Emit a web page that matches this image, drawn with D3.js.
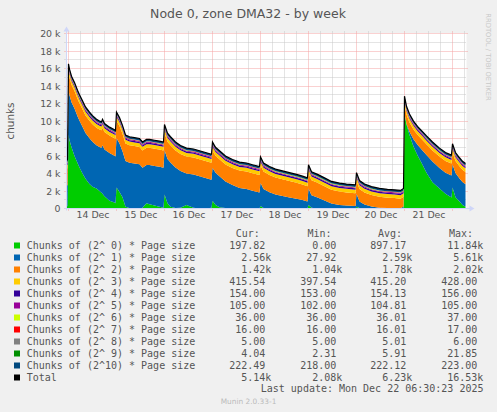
<!DOCTYPE html>
<html><head><meta charset="utf-8">
<script src="https://cdn.jsdelivr.net/npm/d3@7"></script>
<style>html,body{margin:0;padding:0;background:#F0F0F0;}svg{display:block}</style>
</head><body>
<svg id="c" width="497" height="412"></svg>
<script>
// ---- time axis: hours after 2025-12-13 23:00 UTC ----
const startTime = Date.UTC(2025, 11, 13, 23, 0, 0);
const endTime = Date.UTC(2025, 11, 22, 7, 0, 0);
const hours = [
  0, 0.5, 1, 1.5, 2.5, 4, 5.5, 6.5, 8, 9.5,
  11.5, 13, 15, 16.5, 17.5, 18, 19, 21.5, 24, 24.5,
  25, 26.5, 28, 29.5, 31.5, 34, 36.5, 38, 40, 41.5,
  44, 46.5, 48.5, 49, 50.5, 52, 54.5, 57, 60, 63.5,
  66.5, 69.5, 72.5, 73, 74.5, 76.5, 79.5, 83, 86.5, 90,
  93, 96.5, 97, 98.5, 101.5, 104.5, 108, 111.5, 115, 118,
  120.5, 121, 122.5, 125.5, 129, 132.5, 136.5, 140, 144.5, 145,
  146.5, 149, 152.5, 156.5, 160.5, 164, 167, 168.5, 169, 170,
  171.5, 173.5, 175.5, 178, 180, 183, 186.5, 189.5, 192.5, 193,
  194.5, 196.5, 198, 199.5
];
// ---- series values (thousands for the three big ones) ----
const order0_k = [
  0.2, 0.3, 8.5, 7.8, 7.0, 6.0, 5.2, 4.7, 4.0, 3.4,
  2.8, 2.5, 2.3, 2.0, 1.8, 1.7, 1.4, 0.9, 0.7, 0.6,
  2.4, 1.9, 1.3, 0.2, 0.05, 0, 0, 0.1, 0.6, 0.5,
  0.35, 0.2, 0.1, 1.6, 0.6, 0.2, 0.05, 0.1, 0.4, 0.1,
  0, 0, 0.1, 0.9, 0.4, 0.15, 0.05, 0, 0, 0,
  0, 0, 0.3, 0.05, 0, 0, 0, 0, 0, 0,
  0, 0.4, 0.1, 0, 0, 0, 0, 0, 0, 0.2,
  0.05, 0, 0, 0, 0, 0, 0, 0.1, 10.8, 9.6,
  8.4, 7.1, 6.1, 5.0, 4.1, 3.0, 2.3, 1.7, 1.25, 2.4,
  1.3, 0.8, 0.4, 0.198
];
const order1_k = [
  2.34, 2.39, 5.04, 5.14, 5.14, 5.44, 5.34, 5.34, 5.34, 5.24,
  5.24, 5.14, 4.94, 5.04, 5.14, 5.54, 5.34, 5.44, 5.34, 5.34,
  5.62, 5.54, 5.24, 5.24, 5.19, 5.14, 5.06, 4.56, 4.36, 4.46,
  4.51, 4.57, 4.57, 5.05, 5.06, 5.07, 4.64, 4.19, 3.59, 3.79,
  3.69, 3.49, 3.19, 3.77, 3.68, 3.54, 3.04, 2.69, 2.34, 2.24,
  2.04, 1.84, 2.64, 2.19, 1.87, 1.61, 1.44, 1.27, 1.11, 0.96,
  0.80, 1.90, 1.42, 1.26, 0.91, 0.57, 0.41, 0.34, 0.29, 1.49,
  0.76, 0.46, 0.22, 0.09, 0.06, 0.05, 0.03, 0.14, 0.05, 0.09,
  0.36, 0.82, 1.18, 1.64, 2.01, 2.37, 2.33, 2.40, 2.52, 2.66,
  2.75, 2.64, 2.63, 2.56
];
const order2_k = [
  1.9, 1.95, 2.0, 2.0, 2.0, 2.0, 2.0, 2.0, 2.0, 2.0,
  2.0, 2.0, 2.0, 2.0, 2.0, 2.0, 2.0, 2.0, 2.0, 2.0,
  2.02, 2.0, 2.0, 2.0, 2.0, 2.0, 1.98, 1.98, 1.98, 1.98,
  1.98, 1.97, 1.97, 1.99, 1.98, 1.97, 1.95, 1.95, 1.95, 1.95,
  1.95, 1.95, 1.95, 1.97, 1.96, 1.95, 1.95, 1.95, 2.0, 2.0,
  2.0, 2.0, 2.0, 2.0, 1.97, 1.93, 1.9, 1.87, 1.83, 1.78,
  1.74, 1.74, 1.72, 1.68, 1.63, 1.57, 1.53, 1.5, 1.45, 1.45,
  1.43, 1.38, 1.32, 1.25, 1.18, 1.14, 1.09, 1.1, 1.04, 1.05,
  1.08, 1.12, 1.16, 1.2, 1.23, 1.27, 1.31, 1.34, 1.37, 1.38,
  1.39, 1.4, 1.41, 1.42
];
const order3 = [
  420, 420, 428, 427, 426, 425, 424, 423, 422, 421,
  420, 420, 419, 419, 418, 418, 418, 417, 417, 417,
  421, 420, 419, 418, 418, 417, 417, 416, 416, 416,
  416, 415, 415, 419, 418, 417, 416, 416, 415, 415,
  414, 414, 414, 418, 417, 416, 415, 415, 414, 414,
  413, 413, 417, 416, 415, 414, 414, 413, 413, 412,
  412, 416, 415, 414, 413, 412, 412, 411, 411, 415,
  414, 413, 412, 411, 410, 409, 408, 408, 397.54, 403,
  407, 409, 411, 412, 413, 413, 414, 414, 414, 417,
  416, 416, 415.5, 415.54
];
const order4 = [
  155, 155, 156, 156, 156, 155, 155, 155, 155, 155,
  155, 155, 155, 155, 154, 154, 154, 154, 154, 154,
  155, 155, 154, 154, 154, 154, 154, 154, 154, 154,
  154, 154, 154, 155, 154, 154, 154, 154, 154, 154,
  154, 154, 154, 155, 154, 154, 154, 154, 154, 154,
  154, 154, 154, 154, 154, 154, 154, 154, 154, 154,
  154, 154, 154, 154, 154, 154, 154, 154, 153, 154,
  154, 154, 154, 153, 153, 153, 153, 153, 153, 154,
  154, 154, 154, 154, 154, 154, 154, 154, 154, 154,
  154, 154, 154, 154
];
const order5 = [
  105, 105, 105, 105, 105, 105, 105, 105, 105, 105,
  105, 105, 105, 105, 105, 105, 105, 105, 105, 105,
  105, 105, 105, 105, 105, 105, 105, 105, 105, 105,
  105, 105, 105, 105, 105, 105, 105, 105, 105, 105,
  105, 105, 105, 105, 105, 105, 105, 105, 105, 105,
  105, 105, 105, 105, 105, 105, 105, 105, 105, 105,
  105, 105, 105, 105, 105, 105, 105, 105, 105, 105,
  105, 105, 105, 105, 105, 105, 105, 104, 102, 103,
  104, 104, 105, 105, 105, 105, 105, 105, 105, 105,
  105, 105, 105, 105
];
const order6 = [
  36, 36, 37, 36, 36, 36, 36, 36, 36, 36,
  36, 36, 36, 36, 36, 36, 36, 36, 36, 36,
  36, 36, 36, 36, 36, 36, 36, 36, 36, 36,
  36, 36, 36, 36, 36, 36, 36, 36, 36, 36,
  36, 36, 36, 36, 36, 36, 36, 36, 36, 36,
  36, 36, 36, 36, 36, 36, 36, 36, 36, 36,
  36, 36, 36, 36, 36, 36, 36, 36, 36, 36,
  36, 36, 36, 36, 36, 36, 36, 36, 36, 36,
  36, 36, 36, 36, 36, 36, 36, 36, 36, 36,
  36, 36, 36, 36
];
const order7 = [
  16, 16, 17, 16, 16, 16, 16, 16, 16, 16,
  16, 16, 16, 16, 16, 16, 16, 16, 16, 16,
  16, 16, 16, 16, 16, 16, 16, 16, 16, 16,
  16, 16, 16, 16, 16, 16, 16, 16, 16, 16,
  16, 16, 16, 16, 16, 16, 16, 16, 16, 16,
  16, 16, 16, 16, 16, 16, 16, 16, 16, 16,
  16, 16, 16, 16, 16, 16, 16, 16, 16, 16,
  16, 16, 16, 16, 16, 16, 16, 16, 16, 16,
  16, 16, 16, 16, 16, 16, 16, 16, 16, 16,
  16, 16, 16, 16
];
const order8 = [
  5, 5, 6, 5, 5, 5, 5, 5, 5, 5,
  5, 5, 5, 5, 5, 5, 5, 5, 5, 5,
  5, 5, 5, 5, 5, 5, 5, 5, 5, 5,
  5, 5, 5, 5, 5, 5, 5, 5, 5, 5,
  5, 5, 5, 5, 5, 5, 5, 5, 5, 5,
  5, 5, 5, 5, 5, 5, 5, 5, 5, 5,
  5, 5, 5, 5, 5, 5, 5, 5, 5, 5,
  5, 5, 5, 5, 5, 5, 5, 5, 5, 5,
  5, 5, 5, 5, 5, 5, 5, 5, 5, 5,
  5, 5, 5, 5
];
const order9 = [
  6, 8, 21.85, 15, 10, 8, 7, 7, 6, 6,
  6, 6, 6, 5, 5, 5, 5, 5, 5, 5,
  9, 7, 6, 6, 6, 5, 5, 5, 5, 5,
  5, 5, 5, 8, 6, 6, 5, 5, 5, 5,
  5, 5, 5, 7, 6, 5, 5, 5, 5, 5,
  5, 5, 7, 6, 5, 5, 5, 5, 5, 5,
  5, 7, 6, 5, 5, 5, 5, 5, 5, 7,
  6, 5, 5, 4, 4, 3, 2.31, 3, 12, 9,
  7, 6, 6, 5, 5, 5, 5, 4.5, 4.5, 6,
  5, 4.5, 4.2, 4.04
];
const order10 = [
  222, 222, 223, 223, 223, 223, 223, 223, 223, 223,
  223, 223, 222, 222, 222, 222, 222, 222, 222, 222,
  223, 222, 222, 222, 222, 222, 222, 222, 222, 222,
  222, 222, 222, 222, 222, 222, 222, 222, 222, 222,
  222, 222, 222, 222, 222, 222, 222, 222, 222, 222,
  222, 222, 222, 222, 222, 222, 222, 222, 222, 222,
  222, 222, 222, 222, 222, 222, 222, 222, 222, 222,
  222, 222, 222, 222, 222, 222, 222, 222, 218, 220,
  221, 222, 222, 222, 222, 222, 222, 222, 222, 223,
  223, 222.5, 222.5, 222.49
];

// ---- legend ----
const seriesLabels = [
  "Chunks of (2^ 0) * Page size", "Chunks of (2^ 1) * Page size",
  "Chunks of (2^ 2) * Page size", "Chunks of (2^ 3) * Page size",
  "Chunks of (2^ 4) * Page size", "Chunks of (2^ 5) * Page size",
  "Chunks of (2^ 6) * Page size", "Chunks of (2^ 7) * Page size",
  "Chunks of (2^ 8) * Page size", "Chunks of (2^ 9) * Page size",
  "Chunks of (2^10) * Page size", "Total"
];
const seriesColors = ["#00CC00","#0066B3","#FF8000","#FFCC00","#330099","#990099",
  "#CCFF00","#FF0000","#808080","#008F00","#00487D","#000000"];
const curText = ["197.82","2.56k","1.42k","415.54","154.00","105.00","36.00","16.00","5.00","4.04","222.49","5.14k"];
const minText = ["0.00","27.92","1.04k","397.54","153.00","102.00","36.00","16.00","5.00","2.31","218.00","2.08k"];
const avgText = ["897.17","2.59k","1.78k","415.20","154.13","104.81","36.01","16.01","5.01","5.91","222.12","6.23k"];
const maxText = ["11.84k","5.61k","2.02k","428.00","156.00","105.00","37.00","17.00","6.00","21.85","223.00","16.53k"];
const yTicks = [0, 2000, 4000, 6000, 8000, 10000, 12000, 14000, 16000, 18000, 20000];

// ---- build rows ----
const keys = d3.range(11).map(i => "s" + i);
const big = [order0_k, order1_k, order2_k];
const small = [order3, order4, order5, order6, order7, order8, order9, order10];
const n = d3.min([hours, ...big, ...small], a => a.length);
const rows = d3.range(n).map(i => {
  const r = { date: new Date(startTime + hours[i] * 3600e3) };
  big.forEach((a, j) => r["s" + j] = a[i] * 1000);
  small.forEach((a, j) => r["s" + (j + 3)] = a[i]);
  r.total = keys.reduce((s, k) => s + r[k], 0);
  return r;
});

const svg = d3.select("#c");
const X0 = 66.5, X1 = 466.5, Y0 = 208.5, Y1 = 33.5;
const x = d3.scaleUtc().domain([new Date(startTime), new Date(endTime)]).range([X0, X1]);
const y = d3.scaleLinear().domain([0, 20000]).range([Y0, Y1]);

// canvas
svg.append("rect").attr("x", X0).attr("y", Y1 - 0.5).attr("width", X1 - X0).attr("height", Y0 - Y1 + 0.5).attr("fill", "#FFFFFF");

// grid
const g = svg.append("g");
const minorCol = "#C8C8C8", majorCol = "#F4A3A3";
d3.range(0, 20001, 1000).forEach(v => {
  const major = v % 2000 === 0;
  const yy = Math.round(y(v) - 0.5) + 0.5;
  g.append("line").attr("x1", X0 - 2).attr("x2", X1 + (major ? 2 : 0)).attr("y1", yy).attr("y2", yy)
    .attr("stroke", major ? majorCol : minorCol).attr("stroke-dasharray", "1,1");
});
const sixHours = d3.utcHour.every(6).range(new Date(startTime), new Date(endTime));
sixHours.forEach(d => {
  const major = d.getUTCHours() === 0;
  const xx = Math.round(x(d) - 0.5) + 0.5;
  g.append("line").attr("x1", xx).attr("x2", xx).attr("y1", Y0 + (major ? 2 : 0)).attr("y2", Y1 - 2)
    .attr("stroke", major ? majorCol : minorCol).attr("stroke-dasharray", "1,1");
});

// stacked areas
const stack = d3.stack().keys(keys)(rows);
const area = d3.area().x(d => x(d.data.date)).y0(d => y(d[0])).y1(d => y(d[1]));
svg.append("g").selectAll("path").data(stack).join("path")
  .attr("d", area).attr("fill", (d, i) => seriesColors[i]);
// total line
svg.append("path").datum(rows)
  .attr("d", d3.line().x(d => x(d.date)).y(d => y(d.total)))
  .attr("fill", "none").attr("stroke", "#000").attr("stroke-width", 1.2);

// axes lines with arrows
const axisCol = "#CFD6F8";
svg.append("line").attr("x1", X0 - 2).attr("x2", X1 + 4).attr("y1", Y0).attr("y2", Y0).attr("stroke", axisCol);
svg.append("line").attr("x1", X0).attr("x2", X0).attr("y1", Y0 + 2).attr("y2", Y1 - 4).attr("stroke", axisCol);
svg.append("path").attr("d", `M${X1 + 3},${Y0 - 3} L${X1 + 8},${Y0} L${X1 + 3},${Y0 + 3} Z`).attr("fill", axisCol);
svg.append("path").attr("d", `M${X0 - 3},${Y1 - 2} L${X0},${Y1 - 7} L${X0 + 3},${Y1 - 2} Z`).attr("fill", axisCol);

// y tick labels
const font = "'DejaVu Sans', sans-serif";
const yAxis = d3.axisLeft(y).tickValues(yTicks).tickSize(0).tickPadding(0)
  .tickFormat(v => v === 0 ? "0" : (v / 1000) + " k");
const ya = svg.append("g").attr("transform", `translate(${X0 - 6},0)`).call(yAxis);
ya.select(".domain").remove();
ya.selectAll("text").attr("font-family", font).attr("font-size", 9.4).attr("fill", "#555").attr("dy", "0.35em");

// x tick labels (noon of each day)
const noons = d3.utcDay.range(new Date(startTime), new Date(endTime)).map(d => d3.utcHour.offset(d, 12))
  .filter(d => +d < endTime && +d > startTime);
const xAxis = d3.axisBottom(x).tickValues(noons).tickSize(0).tickPadding(0).tickFormat(d3.utcFormat("%-d %b"));
const xa = svg.append("g").attr("transform", `translate(0,${Y0 + 3})`).call(xAxis);
xa.select(".domain").remove();
xa.selectAll("text").attr("font-family", font).attr("font-size", 9.4).attr("fill", "#555").attr("dy", "0.71em");

// title & labels
svg.append("text").attr("x", 248).attr("y", 18).attr("text-anchor", "middle")
  .attr("font-family", font).attr("font-size", 12.5).attr("fill", "#555").text("Node 0, zone DMA32 - by week");
svg.append("text").attr("transform", "translate(14,121) rotate(-90)").attr("text-anchor", "middle")
  .attr("font-family", font).attr("font-size", 10.4).attr("fill", "#555").text("chunks");
svg.append("text").attr("transform", "translate(486,57) rotate(90)").attr("text-anchor", "middle")
  .attr("font-family", font).attr("font-size", 6.8).attr("fill", "#C8C8C8").text("RRDTOOL / TOBI OETIKER");

// legend
const mono = "'DejaVu Sans Mono', monospace";
const lg = svg.append("g").attr("font-family", mono).attr("font-size", 10).attr("fill", "#555");
const cw = 6.02;
[["Cur:", 235.7], ["Min:", 307.5], ["Avg:", 378], ["Max:", 449]].forEach(([t, xx]) =>
  lg.append("text").attr("x", xx).attr("y", 236.8).text(t));
const colEnd = [265.3, 336.3, 406.3, 477.3];
const rowY = i => 249 + i * 12;
seriesLabels.forEach((lab, i) => {
  const yy = rowY(i);
  lg.append("rect").attr("x", 14).attr("y", yy - 6.5).attr("width", 6).attr("height", 6).attr("fill", seriesColors[i]);
  lg.append("text").attr("x", 26.7).attr("y", yy).text(lab);
  [curText, minText, avgText, maxText].forEach((arr, c) => {
    const s = arr[i];
    const end = colEnd[c] + (s.endsWith("k") ? cw : 0);
    lg.append("text").attr("x", end).attr("y", yy).attr("text-anchor", "end").text(s);
  });
});
lg.append("text").attr("x", 483.5).attr("y", 392.3).attr("text-anchor", "end")
  .text("Last update: Mon Dec 22 06:30:23 2025");
svg.append("text").attr("x", 248.5).attr("y", 403.5).attr("text-anchor", "middle")
  .attr("font-family", font).attr("font-size", 7.4).attr("fill", "#BBBBBB").text("Munin 2.0.33-1");
</script>
</body></html>
